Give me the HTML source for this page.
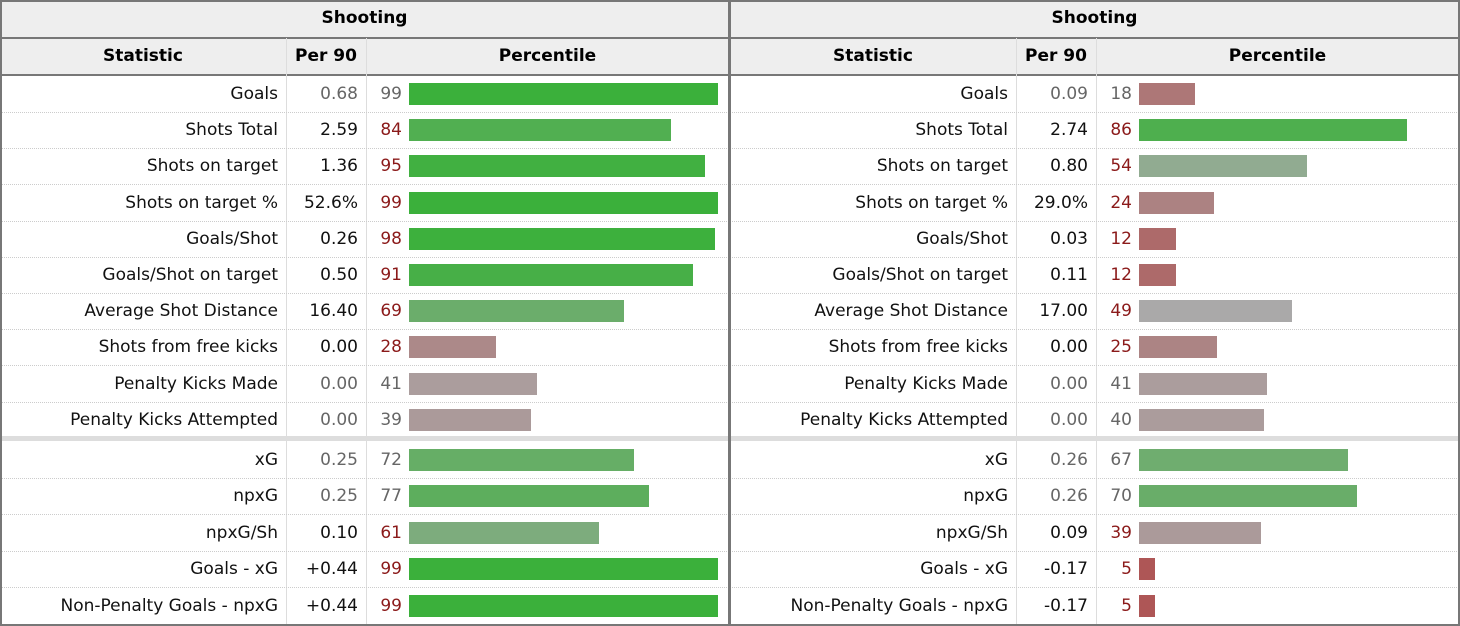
<!DOCTYPE html>
<html><head><meta charset="utf-8">
<style>
body{margin:0;width:1460px;height:626px;background:#fff;font-family:"DejaVu Sans","Liberation Sans",sans-serif;overflow:hidden;position:relative}
.a{position:absolute;box-sizing:border-box}
.t{white-space:nowrap;font-size:17px;line-height:36px}
</style></head><body>
<div id="root"></div>
<script>
const stats=["Goals","Shots Total","Shots on target","Shots on target %","Goals/Shot","Goals/Shot on target","Average Shot Distance","Shots from free kicks","Penalty Kicks Made","Penalty Kicks Attempted","xG","npxG","npxG/Sh","Goals - xG","Non-Penalty Goals - npxG"];
const per90A=["0.68","2.59","1.36","52.6%","0.26","0.50","16.40","0.00","0.00","0.00","0.25","0.25","0.10","+0.44","+0.44"];
const pctA=[99,84,95,99,98,91,69,28,41,39,72,77,61,99,99];
const per90B=["0.09","2.74","0.80","29.0%","0.03","0.11","17.00","0.00","0.00","0.00","0.26","0.26","0.09","-0.17","-0.17"];
const pctB=[18,86,54,24,12,12,49,25,41,40,67,70,39,5,5];
const mutedA=[1,0,0,0,0,0,0,0,1,1,1,1,0,0,0];
const mutedB=[1,0,0,0,0,0,0,0,1,1,1,1,0,0,0];
const root=document.getElementById('root');
function el(x,y,w,h,css,txt){const d=document.createElement('div');d.className='a'+(txt!==undefined?' t':'');d.style.cssText=`left:${x}px;top:${y}px;width:${w}px;height:${h}px;`+css;if(txt!==undefined)d.textContent=txt;root.appendChild(d);return d;}
function rowY(i){return i<10?76+i*36.2:442+(i-10)*36.4;}
function barColor(p){
  const red=[176,58,58],gray=[170,170,170],green=[58,176,58];
  let a,b,t;
  if(p<50){a=red;b=gray;t=p/50;}else{a=gray;b=green;t=(p-50)/50;}
  t=Math.pow(t,0.6);
  return `rgb(${a.map((v,k)=>Math.round(v+(b[k]-v)*t)).join(',')})`;
}
const xScale=p=>p*3.12;
function table(x0,per90,pct,muted,side){
  const W=729;
  el(x0,0,W,38,'background:#eee;');
  let d=el(x0,0,W,38,'text-align:center;font-weight:bold;','Shooting');
  
  el(x0,38,W,37,'background:#eee;');
  el(x0,37,W,2,'background:#777;');
  el(x0,74,W,2,'background:#777;');
  const hs=[["Statistic",0,286],["Per 90",286,80],["Percentile",366,363]];
  hs.forEach(h=>{d=el(x0+h[1],38,h[2],37,'text-align:center;font-weight:bold;',h[0]);
    });
  el(x0+286,38,1,587,'background:#ddd;');
  el(x0+366,38,1,587,'background:#ddd;');
  el(x0,436,W,5,'background:#ddd;');
  stats.forEach((s,i)=>{
    const y=rowY(i),h=36;
    if(i!==9&&i!==14) el(x0,y+h,W,1,'border-top:1px dotted #ccc;');
    d=el(x0,y,278,h,'text-align:right;color:#111;',s);
    
    d=el(x0+286,y,72,h,'text-align:right;color:'+(muted[i]?'#666':'#111')+';',per90[i]);
    
    d=el(x0+366,y,36,h,'text-align:right;color:'+(muted[i]?'#666':'#8b1a1a')+';',String(pct[i]));
    
    d=el(x0+409,y+7,xScale(pct[i]),22,'background:'+barColor(pct[i])+';');
    
  });
}
table(0,per90A,pctA,mutedA,'left');
table(730,per90B,pctB,mutedB,'right');
el(0,0,1460,2,'background:#777;');
el(0,624,1460,2,'background:#777;');
el(0,0,2,626,'background:#777;');
el(1458,0,2,626,'background:#777;');
el(728,0,3,626,'background:#777;');
</script>
</body></html>
